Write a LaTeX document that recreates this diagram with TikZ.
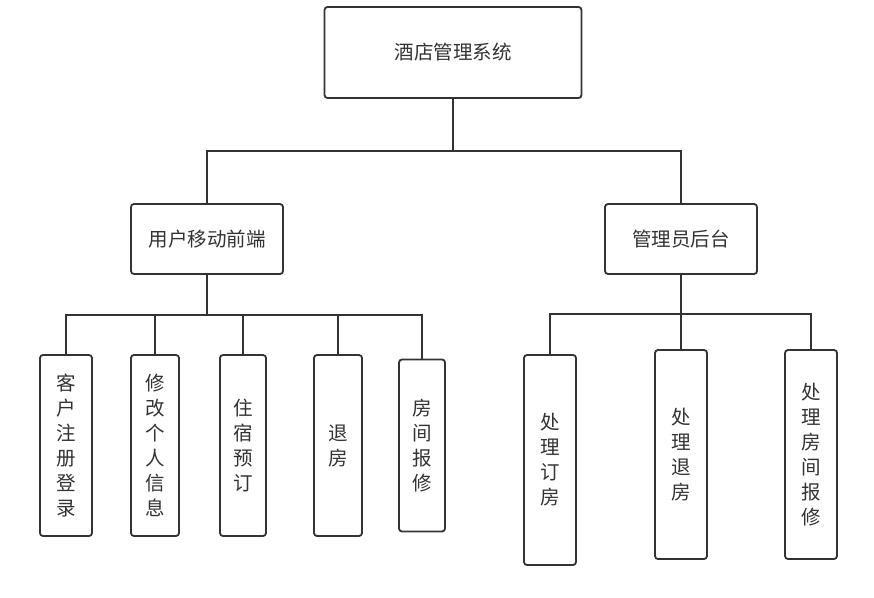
\documentclass[tikz,border=0pt]{standalone}
\usepackage{fontspec}
\newfontfamily\cjk{Noto Sans CJK SC}
\definecolor{ln}{HTML}{333333}
\definecolor{tx}{HTML}{333333}
\begin{document}
\begin{tikzpicture}[x=1pt,y=-1pt,
  box/.style={draw=ln, line width=1.8pt, rounded corners=3pt, fill=white,
    inner sep=0pt, align=center, text=tx, font=\cjk\fontsize{19.5}{25}\selectfont},
  wire/.style={draw=ln, line width=1.8pt}]
\useasboundingbox (0,0) rectangle (874,597);
% nodes
\node[box, minimum width=257pt, minimum height=91pt] (top) at (453,52.5) {酒店管理系统};
\node[box, minimum width=152pt, minimum height=70pt] (L) at (207,239) {用户移动前端};
\node[box, minimum width=152pt, minimum height=70pt] (R) at (681,239) {管理员后台};
\node[box, minimum width=52pt, minimum height=181pt] (a1) at (66,445.5) {客\\户\\注\\册\\登\\录};
\node[box, minimum width=48pt, minimum height=181pt] (a2) at (155,445.5) {修\\改\\个\\人\\信\\息};
\node[box, minimum width=46pt, minimum height=181pt] (a3) at (243,445.5) {住\\宿\\预\\订};
\node[box, minimum width=48pt, minimum height=181pt] (a4) at (338,445.5) {退\\房};
\node[box, minimum width=46pt, minimum height=172pt] (a5) at (422,445.5) {房\\间\\报\\修};
\node[box, minimum width=52pt, minimum height=210pt] (b1) at (550,460) {处\\理\\订\\房};
\node[box, minimum width=52pt, minimum height=209pt] (b2) at (681,454.5) {处\\理\\退\\房};
\node[box, minimum width=52pt, minimum height=209pt] (b3) at (811,454.5) {处\\理\\房\\间\\报\\修};
% bus points
\coordinate (t0) at (453,151);
\coordinate (l0) at (207,315);
\coordinate (r0) at (681,314);
% connectors
\draw[wire] (top.south) -- (t0);
\draw[wire] (t0) -| (L.north);
\draw[wire] (t0) -| (R.north);
\draw[wire] (L.south) -- (l0);
\foreach \n in {a1,a2,a3,a4,a5} \draw[wire] (l0) -| (\n.north);
\draw[wire] (R.south) -- (r0);
\foreach \n in {b1,b2,b3} \draw[wire] (r0) -| (\n.north);
\end{tikzpicture}
\end{document}
